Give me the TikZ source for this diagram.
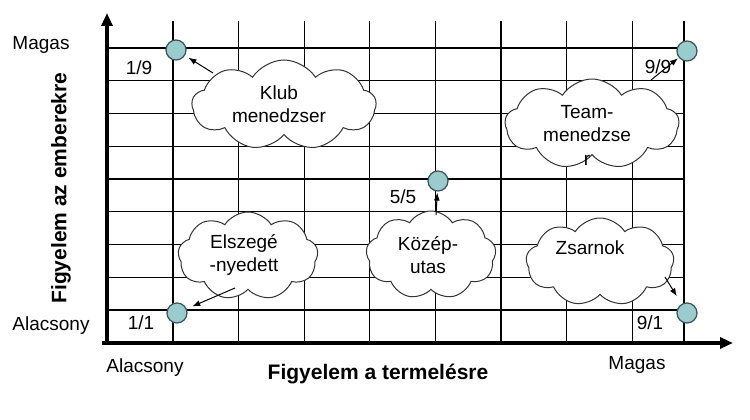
\documentclass[tikz,border=0pt]{standalone}
\usepackage{fontspec}
\setmainfont{Liberation Sans}
\usetikzlibrary{shapes.symbols,arrows.meta}
\definecolor{dotfill}{HTML}{99CCCC}
\definecolor{dotline}{HTML}{3A5555}
\definecolor{cloudline}{HTML}{333333}
\tikzset{
  gridline/.style={line width=1.3pt,black},
  axisline/.style={line width=3.5pt,black,-{Triangle[length=13pt,width=11pt]}},
  dot/.style={circle,fill=dotfill,draw=dotline,line width=1.2pt,minimum size=20pt,inner sep=0pt},
  thought/.style={cloud,cloud puffs=9,cloud puff arc=115,cloud ignores aspect,draw=cloudline,line width=1pt,fill=white,inner sep=0pt},
  lbl/.style={inner sep=0pt,font=\fontsize{19}{24}\selectfont},
  cltext/.style={inner sep=0pt,align=center,font=\fontsize{19}{23.5}\selectfont},
  axlbl/.style={inner sep=0pt,font=\fontsize{21}{25}\selectfont\bfseries},
  pointer/.style={line width=1pt,-{Latex[length=8pt,width=6pt]}},
}
\begin{document}
\begin{tikzpicture}[x=1pt,y=-1pt]
\useasboundingbox (0,0) rectangle (750,420);
% grid
\foreach \i in {0,...,8} {
  \draw[gridline] (107,48+\i*32.75) -- (684,48+\i*32.75);
}
\foreach \j in {0,...,7} {
  \draw[gridline] (173+\j*65.6,21) -- (173+\j*65.6,343);
}
\draw[gridline] (684,21) -- (684,343);
% axes
\draw[axisline] (107,343) -- (107,13);
\draw[axisline] (102,343) -- (733,343);
% axis labels
\node[lbl] (ymag) at (41,45) {Magas};
\node[lbl] (ylow) at (51,326) {Alacsony};
\node[lbl] (xlow) at (145,368) {Alacsony};
\node[lbl] (xmag) at (637,365) {Magas};
\node[axlbl] (xtitle) at (378,374) {Figyelem a termelésre};
\node[axlbl,rotate=90] (ytitle) at (61,188) {Figyelem az emberekre};
% clouds
\node[thought,minimum width=184pt,minimum height=90pt] (klub) at (284,105) {};
\node[thought,minimum width=174pt,minimum height=90pt] (team) at (592,124) {};
\node[thought,minimum width=140pt,minimum height=88pt] (elsz) at (248,256) {};
\node[thought,minimum width=130pt,minimum height=88pt] (kozep) at (431,255) {};
\node[thought,minimum width=148pt,minimum height=88pt] (zsar) at (600,262) {};
\node[cltext] (tklub) at (279,104) {Klub\\menedzser};
\node[cltext] (tteam) at (587,135) {Team-\\menedzse\\r};
\node[cltext] (telsz) at (244,255) {Elszegé\\-nyedett};
\node[cltext] (tkozep) at (428,255) {Közép-\\utas};
\node[cltext] (tzsar) at (590,248) {Zsarnok};
% dots
\node[dot] (d19) at (176,50) {};
\node[dot] (d99) at (687,51) {};
\node[dot] (d55) at (438,181) {};
\node[dot] (d11) at (177,313) {};
\node[dot] (d91) at (687,313) {};
% dot labels
\node[lbl] (l19) at (139,68) {1/9};
\node[lbl] (l99) at (658,67) {9/9};
\node[lbl] (l55) at (403,197) {5/5};
\node[lbl] (l11) at (141,323) {1/1};
\node[lbl] (l91) at (650,323) {9/1};
% pointers
\coordinate (sklub) at (213,73);
\coordinate (steam) at (651,80);
\coordinate (selsz) at (235,288);
\coordinate (skozep) at (436,215);
\coordinate (szsar) at (665,277);
\draw[pointer,shorten >=4pt] (sklub) -- (d19);
\draw[pointer,shorten >=1pt] (steam) -- (d99);
\draw[pointer,shorten >=6pt] (selsz) -- (d11);
\draw[pointer,shorten >=1pt] (skozep) -- (d55);
\draw[pointer,shorten >=9pt] (szsar) -- (d91);
\end{tikzpicture}
\end{document}
